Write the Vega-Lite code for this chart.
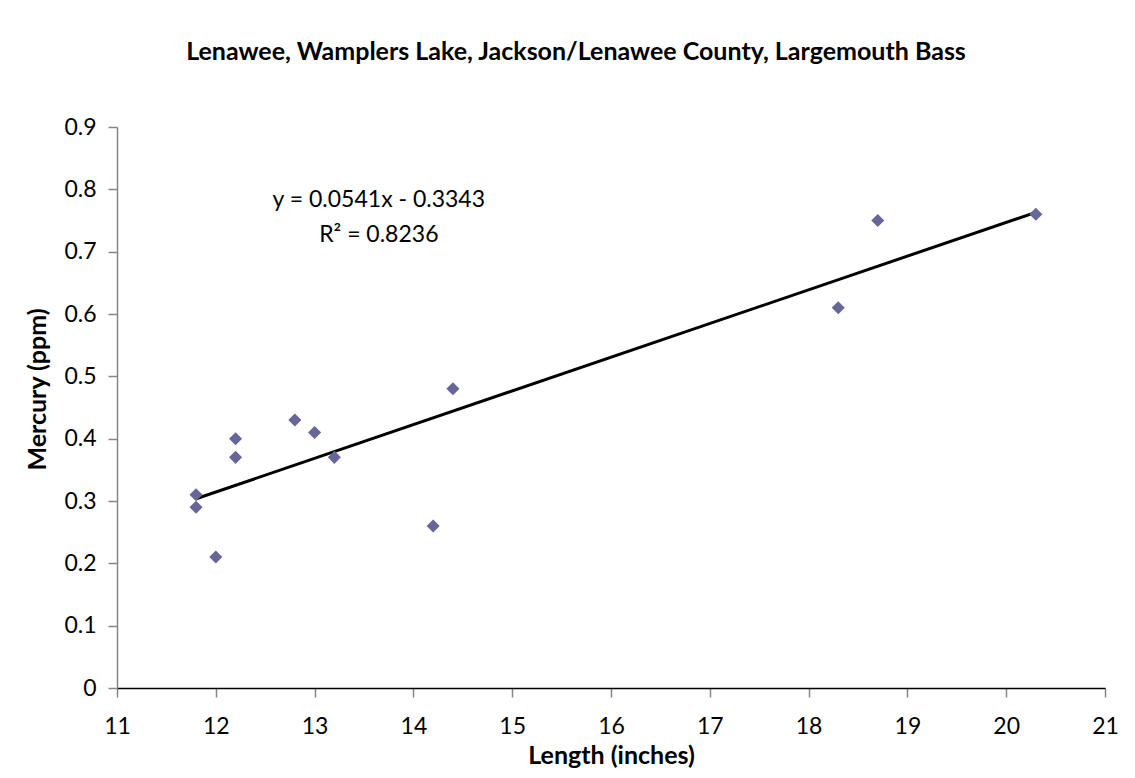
{
  "$schema": "https://vega.github.io/schema/vega-lite/v6.json",
  "width": 988,
  "height": 561,
  "autosize": {"type": "none"},
  "padding": {"left": 117, "top": 127, "right": 30, "bottom": 90},
  "background": "white",
  "config": {
    "view": {"stroke": null},
    "font": "Lato"
  },
  "title": {
    "text": "Lenawee, Wamplers Lake, Jackson/Lenawee County, Largemouth Bass",
    "font": "Lato",
    "fontSize": 25,
    "fontWeight": "bold",
    "color": "black",
    "anchor": "middle",
    "dx": -35,
    "baseline": "alphabetic",
    "offset": 31
  },
  "datasets": {
    "fish": [
      {"length": 11.8, "mercury": 0.31},
      {"length": 11.8, "mercury": 0.29},
      {"length": 12.0, "mercury": 0.21},
      {"length": 12.2, "mercury": 0.40},
      {"length": 12.2, "mercury": 0.37},
      {"length": 12.8, "mercury": 0.43},
      {"length": 13.0, "mercury": 0.41},
      {"length": 13.2, "mercury": 0.37},
      {"length": 14.2, "mercury": 0.26},
      {"length": 14.4, "mercury": 0.48},
      {"length": 18.3, "mercury": 0.61},
      {"length": 18.7, "mercury": 0.75},
      {"length": 20.3, "mercury": 0.76}
    ],
    "labels": [
      {"length": 13.65, "mercury": 0.783, "label": "y = 0.0541x - 0.3343"},
      {"length": 13.65, "mercury": 0.726, "label": "R² = 0.8236"}
    ]
  },
  "layer": [
    {
      "data": {"name": "fish"},
      "transform": [{"regression": "mercury", "on": "length"}],
      "mark": {"type": "line", "color": "black", "strokeWidth": 3, "strokeCap": "butt"},
      "encoding": {
        "x": {"field": "length", "type": "quantitative"},
        "y": {"field": "mercury", "type": "quantitative"}
      }
    },
    {
      "data": {"name": "fish"},
      "mark": {"type": "point", "shape": "diamond", "filled": true, "color": "#666699", "size": 170, "opacity": 1},
      "encoding": {
        "x": {
          "field": "length",
          "type": "quantitative",
          "scale": {"domain": [11, 21], "nice": false, "zero": false},
          "axis": {
            "title": "Length (inches)",
            "values": [11, 12, 13, 14, 15, 16, 17, 18, 19, 20, 21],
            "format": "d",
            "grid": false,
            "domainColor": "black",
            "domainWidth": 1.5,
            "tickColor": "#868686",
            "tickWidth": 1.5,
            "tickSize": 9,
            "labelFont": "Lato",
            "labelFontSize": 23,
            "labelColor": "black",
            "labelPadding": 18,
            "labelFlush": false,
            "labelOverlap": false,
            "labelBound": false,
            "titleFont": "Lato",
            "titleFontSize": 25,
            "titleFontWeight": "bold",
            "titleColor": "black",
            "titleBaseline": "alphabetic",
            "titleY": 75
          }
        },
        "y": {
          "field": "mercury",
          "type": "quantitative",
          "scale": {"domain": [0, 0.9], "nice": false},
          "axis": {
            "title": "Mercury (ppm)",
            "values": [0, 0.1, 0.2, 0.3, 0.4, 0.5, 0.6, 0.7, 0.8, 0.9],
            "format": "~g",
            "grid": false,
            "domainColor": "#868686",
            "domainWidth": 1.5,
            "tickColor": "#868686",
            "tickWidth": 1.5,
            "tickSize": 9,
            "labelFont": "Lato",
            "labelFontSize": 23,
            "labelColor": "black",
            "labelPadding": 12,
            "labelOverlap": false,
            "labelBound": false,
            "titleFont": "Lato",
            "titleFontSize": 25,
            "titleFontWeight": "bold",
            "titleColor": "black",
            "titleBaseline": "middle",
            "titleX": -80,
            "titleY": 262
          }
        }
      }
    },
    {
      "data": {"name": "labels"},
      "mark": {"type": "text", "font": "Lato", "fontSize": 23, "color": "black", "align": "center", "baseline": "middle"},
      "encoding": {
        "x": {"field": "length", "type": "quantitative"},
        "y": {"field": "mercury", "type": "quantitative"},
        "text": {"field": "label"}
      }
    }
  ]
}
